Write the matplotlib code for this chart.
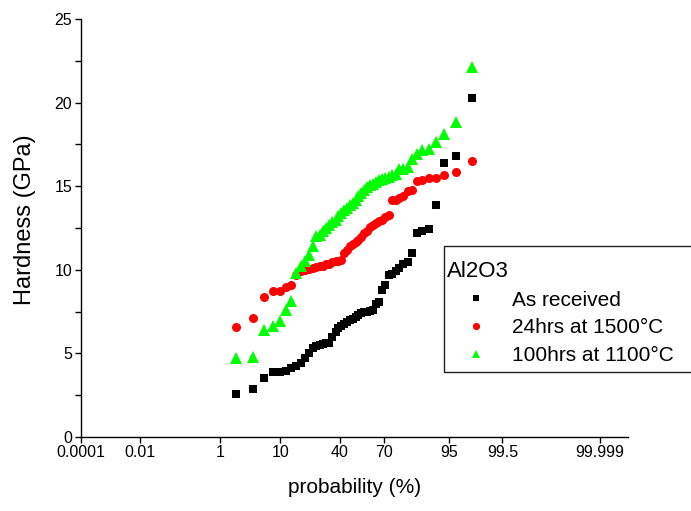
import numpy as np
import matplotlib
matplotlib.use("Agg")
import matplotlib.pyplot as plt
from matplotlib.patches import Rectangle
from statistics import NormalDist

plt.rcParams['font.family'] = ['Liberation Sans', 'DejaVu Sans']

# cumulative probability (%) of each ranked measurement
prob = [2.0, 3.9, 5.9, 7.8, 9.8, 11.8, 13.7, 15.7, 17.6, 19.6,
        21.6, 23.5, 25.5, 27.5, 29.4, 31.4, 33.3, 35.3, 37.3, 39.2,
        41.2, 43.1, 45.1, 47.1, 49.0, 51.0, 52.9, 54.9, 56.9, 58.8,
        60.8, 62.7, 64.7, 66.7, 68.6, 70.6, 72.5, 74.5, 76.5, 78.4,
        80.4, 82.4, 84.3, 86.3, 88.2, 90.2, 92.2, 94.1, 96.1, 98.0]

as_received = [2.55, 2.9, 3.5, 3.87, 3.9, 3.97, 4.1, 4.25, 4.4, 4.7,
               5.0, 5.3, 5.45, 5.5, 5.55, 5.6, 5.6, 6.0, 6.3, 6.5,
               6.65, 6.75, 6.9, 7.0, 7.05, 7.15, 7.3, 7.4, 7.45, 7.5,
               7.55, 7.6, 7.95, 8.1, 8.8, 9.1, 9.7, 9.75, 9.9, 10.1,
               10.35, 10.45, 11.0, 12.2, 12.3, 12.45, 13.9, 16.4, 16.8, 20.3]

h24_1500 = [6.55, 7.1, 8.35, 8.75, 8.75, 9.0, 9.1, 9.7, 9.9, 10.0,
            10.05, 10.1, 10.15, 10.2, 10.25, 10.35, 10.35, 10.45, 10.5, 10.55,
            10.6, 11.0, 11.2, 11.45, 11.55, 11.65, 11.8, 11.95, 12.2, 12.35,
            12.55, 12.7, 12.8, 12.9, 13.0, 13.15, 13.3, 14.15, 14.2, 14.3,
            14.4, 14.7, 14.8, 15.3, 15.4, 15.5, 15.5, 15.65, 15.85, 16.5]

h100_1100 = [4.7, 4.8, 6.4, 6.65, 6.95, 7.6, 8.15, 9.8, 10.2, 10.5,
             10.9, 11.4, 12.0, 12.1, 12.3, 12.5, 12.7, 12.85, 13.0, 13.2,
             13.4, 13.55, 13.7, 13.85, 14.0, 14.2, 14.4, 14.6, 14.75, 14.95,
             15.05, 15.15, 15.25, 15.35, 15.45, 15.5, 15.55, 15.65, 15.75, 16.0,
             16.05, 16.15, 16.6, 16.95, 17.15, 17.2, 17.65, 18.15, 18.85, 22.1]

xticks = [0.0001, 0.01, 1, 10, 40, 70, 95, 99.5, 99.999]
xticklabels = ['0.0001', '0.01', '1', '10', '40', '70', '95', '99.5', '99.999']
yticks = [0, 5, 10, 15, 20, 25]

_nd = NormalDist()
_inv = np.vectorize(lambda p: _nd.inv_cdf(min(max(p / 100.0, 1e-12), 1 - 1e-12)),
                    otypes=[float])
_cdf = np.vectorize(lambda z: _nd.cdf(z) * 100.0, otypes=[float])


def fwd(p):
    return _inv(np.asarray(p, dtype=float))


def inv(z):
    return _cdf(np.asarray(z, dtype=float))


W, H = 691, 511
fig = plt.figure(figsize=(W / 100, H / 100), dpi=100)
ax = fig.add_axes([80.7 / W, 1 - 437 / H, 547 / W, (437 - 19) / H])
ax.set_xscale('function', functions=(fwd, inv))

ax.plot(prob, as_received, 's', color='black', markersize=5.3, markeredgewidth=0,
        label='As received')
ax.plot(prob, h24_1500, 'o', color='#ff0000', markersize=6.5, markeredgewidth=0,
        label='24hrs at 1500\u00b0C')
ax.plot(prob, h100_1100, '^', color='#00ff00', markersize=8, markeredgewidth=0,
        label='100hrs at 1100\u00b0C')

ax.set_xlim(0.0001, 99.9999)
ax.set_ylim(0, 25)
ax.set_xticks(xticks)
ax.set_xticklabels(xticklabels)
ax.xaxis.set_minor_locator(matplotlib.ticker.NullLocator())
ax.set_yticks(yticks)
ax.set_yticks(np.arange(2.5, 25, 5), minor=True)

for s in ['top', 'right']:
    ax.spines[s].set_visible(False)
for s in ['left', 'bottom']:
    ax.spines[s].set_linewidth(1.0)
ax.tick_params(axis='both', which='major', direction='out', length=4.5, width=1,
               labelsize=11.5, colors='black', pad=1.5)
ax.tick_params(axis='y', which='minor', direction='out', length=4.5, width=1)

ax.set_xlabel('probability (%)', fontsize=15)
ax.xaxis.set_label_coords(0.5, (437 - 478) / 418)
ax.set_ylabel('Hardness (GPa)', fontsize=17)
ax.yaxis.set_label_coords((36 - 80.7) / 547, (437 - 219.5) / 418)

leg = ax.legend(title='Al2O3', loc='upper left', bbox_to_anchor=(444 / W, 1 - 257.7 / H),
                bbox_transform=fig.transFigure, borderaxespad=0, fontsize=15,
                title_fontsize=16, frameon=False,
                markerscale=0.8, handlelength=2.76, handletextpad=0.36,
                borderpad=0.15, labelspacing=0.42, alignment='left', numpoints=1)

# legend frame (runs off the right edge of the figure, as in the original)
fig.add_artist(Rectangle((444 / W, 1 - 372 / H), (705 - 444) / W, (372 - 246) / H,
                         transform=fig.transFigure, fill=False, edgecolor='#222222',
                         linewidth=1.0, clip_on=False))

fig.savefig('out.png', dpi=100)
